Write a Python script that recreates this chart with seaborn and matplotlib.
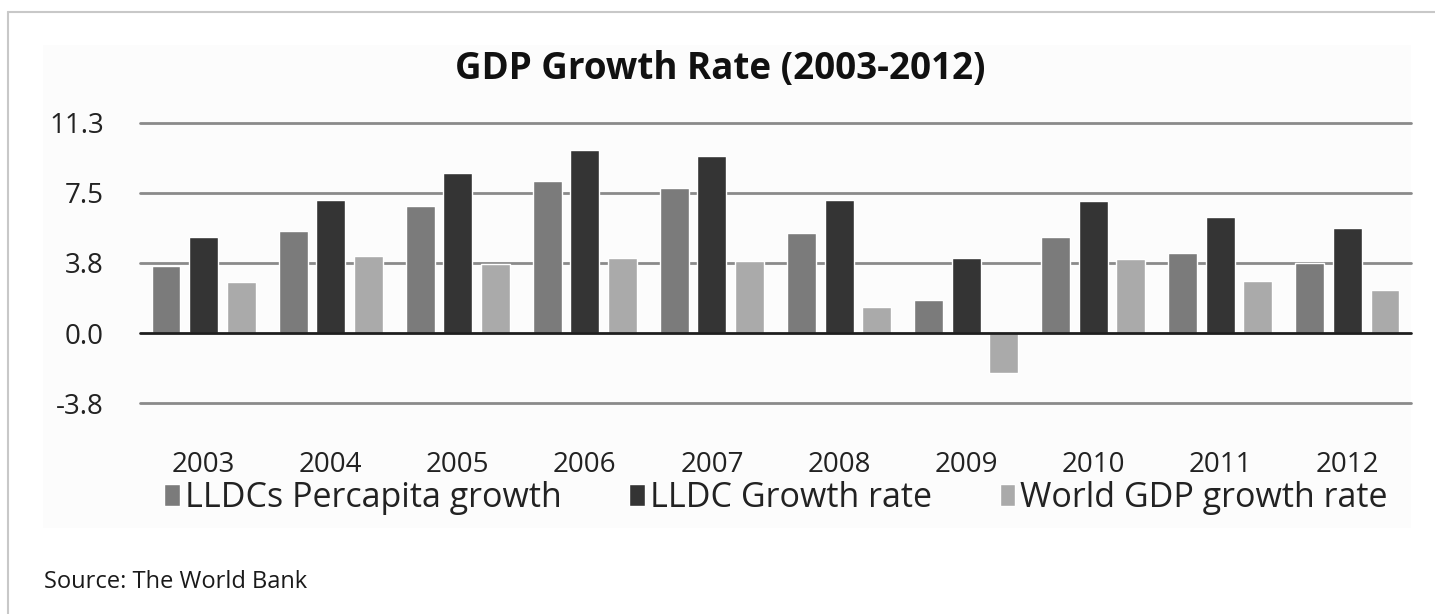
import matplotlib
matplotlib.use("Agg")
import matplotlib.pyplot as plt
import seaborn as sns
import pandas as pd
from matplotlib.patches import Rectangle

years = ["2003", "2004", "2005", "2006", "2007", "2008", "2009", "2010", "2011", "2012"]
series_names = ["LLDCs Percapita growth", "LLDC Growth rate", "World GDP growth rate"]
lldc_percapita = [3.63, 5.47, 6.85, 8.15, 7.80, 5.36, 1.79, 5.15, 4.31, 3.78]
lldc_growth = [5.15, 7.16, 8.58, 9.84, 9.50, 7.17, 4.02, 7.08, 6.22, 5.65]
world_growth = [2.77, 4.13, 3.69, 4.02, 3.90, 1.39, -2.12, 3.99, 2.79, 2.29]
y_ticks = [-3.767, 0.0, 3.767, 7.533, 11.3]
y_tick_labels = ["-3.8", "0.0", "3.8", "7.5", "11.3"]

df = pd.DataFrame({
    "Year": years * 3,
    "Series": [series_names[0]] * 10 + [series_names[1]] * 10 + [series_names[2]] * 10,
    "Value": lldc_percapita + lldc_growth + world_growth,
})

sns.set_theme(style="white")
plt.rcParams["font.family"] = ["Open Sans", "DejaVu Sans"]

fig = plt.figure(figsize=(14.35, 6.14), dpi=100)
fig.patch.set_facecolor("white")

# faint chart background
bg = Rectangle((43 / 1435, 1 - 528 / 614), (1411 - 43) / 1435, (528 - 45) / 614,
               transform=fig.transFigure, facecolor="#fcfcfc", edgecolor="none", zorder=-5)
fig.patches.append(bg)
# outer frame lines (top and left)
fig.add_artist(plt.Line2D([8 / 1435, 1.0], [1 - 12 / 614, 1 - 12 / 614], transform=fig.transFigure,
                          color="#c8c8c8", lw=1.5, zorder=-4))
fig.add_artist(plt.Line2D([8 / 1435, 8 / 1435], [0.0, 1 - 12 / 614], transform=fig.transFigure,
                          color="#c8c8c8", lw=1.5, zorder=-4))

ax = fig.add_axes([140 / 1435, 1 - 403.3 / 614, (1411 - 140) / 1435, (403.3 - 122.7) / 614])
ax.set_zorder(2)
ax.patch.set_alpha(0)

palette = {series_names[0]: "#7b7b7b", series_names[1]: "#343434", series_names[2]: "#aaaaaa"}
sns.barplot(data=df, x="Year", y="Value", hue="Series", palette=palette, ax=ax,
            width=0.886, gap=0.23, saturation=1, zorder=3, legend=True)

ax.set_ylim(-3.767, 11.3)
ax.set_xlim(-0.5, 9.5)
ax.set_yticks(y_ticks)
ax.set_yticklabels(y_tick_labels)
for t in y_ticks:
    if t == 0.0:
        ax.axhline(t, color="#1e1e1e", lw=2.0, zorder=4, clip_on=False)
    else:
        ax.axhline(t, color="#8a8a8a", lw=2.0, zorder=1, clip_on=False)

for s in ax.spines.values():
    s.set_visible(False)
ax.set_xlabel("")
ax.set_ylabel("")
ax.tick_params(axis="x", length=0, pad=34, labelsize=20, labelcolor="#222222")
ax.tick_params(axis="y", length=0, pad=26, labelsize=20, labelcolor="#222222")

handles, labels = ax.get_legend_handles_labels()
ax.get_legend().remove()
fig.legend(handles, labels, loc="center", bbox_to_anchor=(776 / 1435, 1 - 498 / 614), ncol=3,
           frameon=False, fontsize=24.5, handlelength=0.45, handleheight=0.65, handletextpad=0.15,
           columnspacing=2.0, labelcolor="#222222", borderpad=0.2)

fig.text(44 / 1435, 1 - 582 / 614, "Source: The World Bank", fontsize=17, color="#1a1a1a",
         ha="left", va="center")
fig.text(720 / 1435, 1 - 69 / 614, "GDP Growth Rate (2003-2012)", fontsize=26.5, fontweight="bold",
         color="#111111", ha="center", va="center")

fig.savefig("out.png", dpi=100)
